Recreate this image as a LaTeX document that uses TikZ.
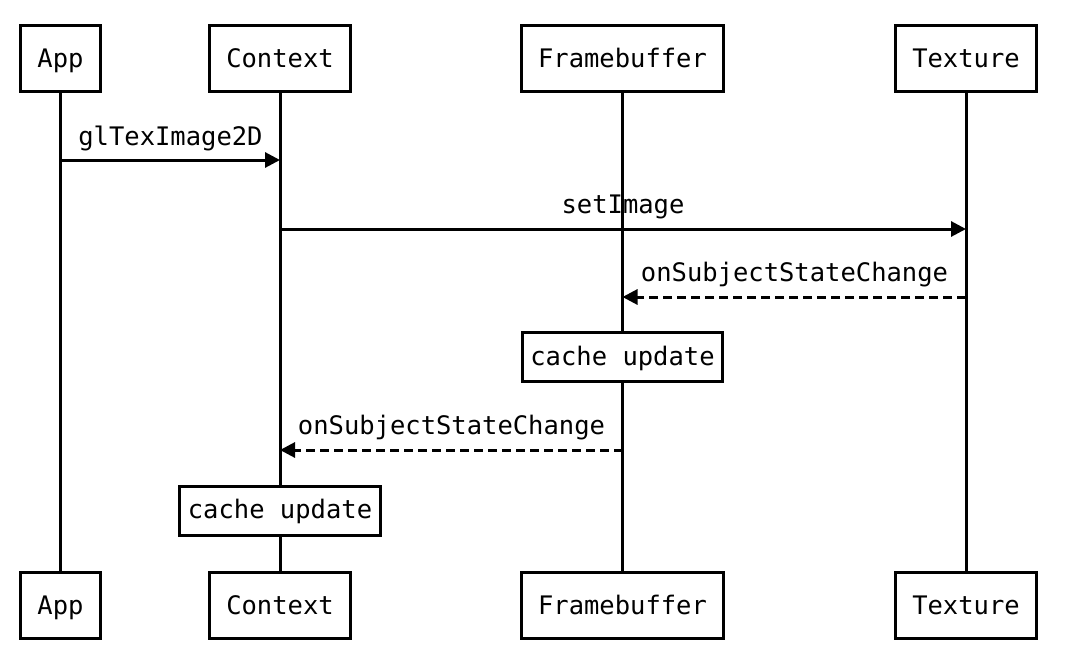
\documentclass[tikz,border=0pt]{standalone}
\usepackage{fontspec}
\setmonofont{DejaVu Sans Mono}
\usetikzlibrary{arrows.meta}
\begin{document}
\begin{tikzpicture}[x=1pt,y=-1pt,
  every node/.style={font=\ttfamily\fontsize{25.5}{30}\selectfont, outer sep=0pt},
  actor/.style={draw, line width=3pt, fill=white, minimum height=66pt, inner xsep=16.5pt, inner ysep=0pt, text height=24pt, text depth=6pt},
  activity/.style={draw, line width=3pt, fill=white, minimum height=49pt, inner xsep=8pt, inner ysep=0pt, text height=22pt, text depth=6pt},
  life/.style={line width=3pt},
  msg/.style={line width=3pt, -{Triangle[length=15pt,width=15pt]}},
  reply/.style={msg, dash pattern=on 9pt off 5pt},
  lbl/.style={anchor=base, inner sep=0pt}]
\useasboundingbox (0,0) rectangle (1067,664);
% actors
\node[actor] (appT) at (60.5,58.5) {App};
\node[actor] (ctxT) at (280,58.5) {Context};
\node[actor] (fbT)  at (622.5,58.5) {Framebuffer};
\node[actor] (texT) at (966,58.5) {Texture};
\node[actor] (appB) at (60.5,605) {App};
\node[actor] (ctxB) at (280,605) {Context};
\node[actor] (fbB)  at (622.5,605) {Framebuffer};
\node[actor] (texB) at (966,605) {Texture};
% lifelines
\draw[life] (appT.south) -- (appB.north);
\draw[life] (ctxT.south) -- (ctxB.north);
\draw[life] (fbT.south) -- (fbB.north);
\draw[life] (texT.south) -- (texB.north);
% rows
\coordinate (r1) at (0,160);
\coordinate (r2) at (0,229);
\coordinate (r3) at (0,297);
\coordinate (r4) at (0,450);
% activities
\node[activity] (fbc) at (622.5,357) {cache update};
\node[activity] (ctxc) at (280,510.5) {cache update};
% messages
\draw[msg] (appT |- r1) -- (ctxT |- r1);
\node[lbl] (l1) at (170.5,145) {glTexImage2D};
\draw[msg] (ctxT |- r2) -- (texT |- r2);
\node[lbl] (l2) at (623,213) {setImage};
\draw[reply] (texT |- r3) -- (fbT |- r3);
\node[lbl] (l3) at (794.5,281) {onSubjectStateChange};
\draw[reply] (fbT |- r4) -- (ctxT |- r4);
\node[lbl] (l4) at (451.5,434) {onSubjectStateChange};
\end{tikzpicture}
\end{document}
